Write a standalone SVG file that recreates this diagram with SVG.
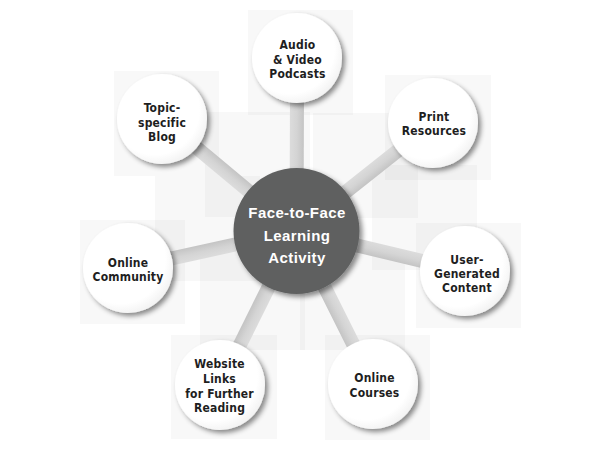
<svg xmlns="http://www.w3.org/2000/svg" width="615" height="476" viewBox="0 0 615 476">
  <defs>
    <filter id="shadow" x="-30%" y="-30%" width="170%" height="170%">
      <feDropShadow dx="3" dy="3" stdDeviation="2.5" flood-color="#000" flood-opacity="0.45"/>
    </filter>
    <radialGradient id="nodeFill" cx="0.42" cy="0.4" r="0.62">
      <stop offset="0.8" stop-color="#ffffff"/>
      <stop offset="1" stop-color="#f3f3f3"/>
    </radialGradient>
    <linearGradient id="barFill" x1="0" y1="0" x2="0" y2="1">
      <stop offset="0" stop-color="#dcdcdc"/>
      <stop offset="0.5" stop-color="#d4d4d4"/>
      <stop offset="1" stop-color="#c4c4c4"/>
    </linearGradient>
  </defs>
  <style>
    .bg { fill: #000; fill-opacity: 0.028; }
    .node { fill: url(#nodeFill); filter: url(#shadow); }
    .hub { fill: #5f6060; filter: url(#shadow); }
    .bar { fill: url(#barFill); }
    .lbl { font-family: "Liberation Sans Narrow", "DejaVu Sans Condensed", "Liberation Sans", sans-serif; font-weight: bold; font-size: 12px; fill: #1e1e1e; text-anchor: middle; letter-spacing: 0.2px; }
    .hubl { font-family: "Liberation Sans", Arial, sans-serif; font-weight: bold; font-size: 15px; fill: #ffffff; text-anchor: middle; letter-spacing: 0.4px; }
  </style>
  <rect width="615" height="476" fill="#ffffff"/>
  <g id="background">
    <rect class="bg" x="248" y="10" width="105" height="105"/>
    <rect class="bg" x="114" y="71" width="105" height="105"/>
    <rect class="bg" x="385" y="75" width="106" height="105"/>
    <rect class="bg" x="80" y="220" width="105" height="104"/>
    <rect class="bg" x="416" y="223" width="105" height="105"/>
    <rect class="bg" x="171" y="335" width="106" height="104"/>
    <rect class="bg" x="325" y="335" width="105" height="105"/>
    <rect class="bg" x="205" y="112" width="105" height="105"/>
    <rect class="bg" x="313" y="113" width="105" height="105"/>
    <rect class="bg" x="155" y="176" width="105" height="105"/>
    <rect class="bg" x="372" y="165" width="105" height="105"/>
    <rect class="bg" x="200" y="250" width="105" height="100"/>
    <rect class="bg" x="300" y="250" width="105" height="100"/>
  </g>
  <g id="connectors">
    <rect class="bar" x="0" y="-7" width="175" height="14" transform="translate(296.5,231) rotate(-89.8)"/>
    <rect class="bar" x="0" y="-7" width="175" height="14" transform="translate(296.5,231) rotate(-140.2)"/>
    <rect class="bar" x="0" y="-7" width="175" height="14" transform="translate(296.5,231) rotate(-38.4)"/>
    <rect class="bar" x="0" y="-7" width="173" height="14" transform="translate(296.5,231) rotate(167.6)"/>
    <rect class="bar" x="0" y="-7" width="173" height="14" transform="translate(296.5,231) rotate(13.4)"/>
    <rect class="bar" x="0" y="-7" width="172" height="14" transform="translate(296.5,231) rotate(116.4)"/>
    <rect class="bar" x="0" y="-7" width="171" height="14" transform="translate(296.5,231) rotate(63.4)"/>
  </g>
  <g id="hub">
    <circle class="hub" cx="296.5" cy="231" r="63"/>
    <text class="hubl" x="297" y="218">Face-to-Face</text>
    <text class="hubl" x="297" y="241">Learning</text>
    <text class="hubl" x="297" y="263">Activity</text>
  </g>
  <g id="audio-video">
    <circle class="node" cx="297" cy="58" r="45"/>
    <text class="lbl" x="297.5" y="49">Audio</text>
    <text class="lbl" x="297.5" y="64">&amp; Video</text>
    <text class="lbl" x="297.5" y="78">Podcasts</text>
  </g>
  <g id="topic-blog">
    <circle class="node" cx="162" cy="119" r="45"/>
    <text class="lbl" x="162" y="112">Topic-</text>
    <text class="lbl" x="162" y="127">specific</text>
    <text class="lbl" x="162" y="141">Blog</text>
  </g>
  <g id="print">
    <circle class="node" cx="433" cy="123" r="45"/>
    <text class="lbl" x="434" y="121">Print</text>
    <text class="lbl" x="434" y="135">Resources</text>
  </g>
  <g id="community">
    <circle class="node" cx="128" cy="268" r="45"/>
    <text class="lbl" x="128" y="267">Online</text>
    <text class="lbl" x="128" y="281">Community</text>
  </g>
  <g id="user-content">
    <circle class="node" cx="465" cy="271" r="45"/>
    <text class="lbl" x="467" y="264">User-</text>
    <text class="lbl" x="467" y="278">Generated</text>
    <text class="lbl" x="467" y="292">Content</text>
  </g>
  <g id="website-links">
    <circle class="node" cx="220" cy="385" r="45"/>
    <text class="lbl" x="219.5" y="368">Website</text>
    <text class="lbl" x="219.5" y="383">Links</text>
    <text class="lbl" x="219.5" y="398">for Further</text>
    <text class="lbl" x="219.5" y="412">Reading</text>
  </g>
  <g id="online-courses">
    <circle class="node" cx="373" cy="384" r="45"/>
    <text class="lbl" x="374.5" y="382">Online</text>
    <text class="lbl" x="374.5" y="397">Courses</text>
  </g>
</svg>
